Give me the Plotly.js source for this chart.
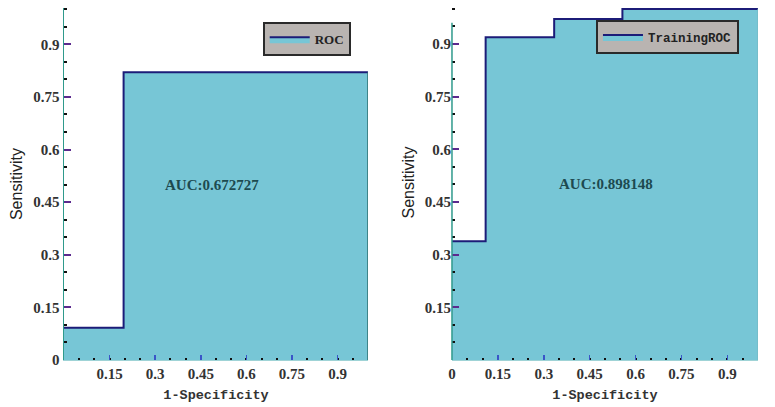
<!DOCTYPE html>
<html>
<head>
<meta charset="utf-8">
<script src="https://cdn.plot.ly/plotly-3.0.1.min.js"></script>
<style>
  html, body { margin: 0; padding: 0; background: #fff; }
  #chart { width: 775px; height: 407px; }
</style>
</head>
<body>
<div id="chart"></div>
<script>
// validation ROC (left)
const valFpr = [0, 0.196, 0.196, 1];
const valTpr = [0.092, 0.092, 0.82, 0.82];
const valAuc = 'AUC:0.672727';

// training ROC (right)
const trainFpr = [0, 0.11, 0.11, 0.334, 0.334, 0.557, 0.557, 1];
const trainTpr = [0.338, 0.338, 0.919, 0.919, 0.971, 0.971, 1.0, 1.0];
const trainAuc = 'AUC:0.898148';

const leftXTicks = [0.15, 0.3, 0.45, 0.6, 0.75, 0.9];
const leftYTicks = [0, 0.15, 0.3, 0.45, 0.6, 0.75, 0.9];
const rightXTicks = [0, 0.15, 0.3, 0.45, 0.6, 0.75, 0.9];
const rightYTicks = [0.15, 0.3, 0.45, 0.6, 0.75, 0.9];

const fillCol = '#77c6d6';
const lineCol = '#1c1c78';
const axisCol = '#2f9a8c';

const tickFont = { family: 'Liberation Serif, DejaVu Serif, serif', size: 15, color: '#333', weight: 'bold' };
const monoTitle = { family: 'Liberation Mono, DejaVu Sans Mono, monospace', size: 13.5, color: '#333', weight: 'bold' };

const leftX = [0.0826, 0.4748], rightX = [0.5832, 0.978];
const leftY = [0.1155, 0.980], rightY = [0.1155, 0.988];

function xAxis(domain, ticks, anchor) {
  return {
    domain: domain, range: [0, 1], fixedrange: true, anchor: anchor,
    showgrid: false, zeroline: false,
    showline: true, linecolor: '#9fd3d6', linewidth: 1,
    tickmode: 'array', tickvals: ticks, ticktext: ticks.map(String),
    ticks: 'inside', ticklen: 5, tickwidth: 1.5, tickcolor: '#3a55c8',
    minor: { ticks: 'inside', dtick: 0.05, ticklen: 2, tickwidth: 2, tickcolor: '#111' },
    tickfont: tickFont,
    title: { text: '1-Specificity', font: monoTitle, standoff: 8 }
  };
}

function yAxis(domain, range, ticks, anchor, line) {
  return {
    domain: domain, range: range, fixedrange: true, anchor: anchor,
    showgrid: false, zeroline: false,
    showline: line, linecolor: axisCol, linewidth: 1.5,
    tickmode: 'array', tickvals: ticks, ticktext: ticks.map(String),
    ticks: 'inside', ticklen: 7, tickwidth: 2, tickcolor: '#5b2a8e',
    minor: { ticks: 'inside', dtick: 0.05, ticklen: 3, tickwidth: 2, tickcolor: '#111' },
    tickfont: tickFont,
    title: { text: 'Sensitivity', font: { family: 'Liberation Sans, Arial, sans-serif', size: 16, color: '#222' }, standoff: 6 }
  };
}

const traces = [
  {
    x: valFpr, y: valTpr, xaxis: 'x', yaxis: 'y',
    type: 'scatter', mode: 'lines', name: 'ROC',
    line: { color: lineCol, width: 2 },
    fill: 'tozeroy', fillcolor: fillCol,
    legend: 'legend'
  },
  {
    x: trainFpr, y: trainTpr, xaxis: 'x2', yaxis: 'y2',
    type: 'scatter', mode: 'lines', name: 'TrainingROC',
    line: { color: lineCol, width: 2 },
    fill: 'tozeroy', fillcolor: fillCol,
    legend: 'legend2'
  }
];

const legendBox = {
  bgcolor: '#b9b4b1', bordercolor: '#2a2a2a', borderwidth: 2,
  xanchor: 'left', yanchor: 'top', itemclick: false, itemwidth: 40
};

const layout = {
  width: 775, height: 407,
  margin: { l: 0, r: 0, t: 0, b: 0 },
  paper_bgcolor: '#fff', plot_bgcolor: 'rgba(0,0,0,0)',
  showlegend: true,
  xaxis: xAxis(leftX, leftXTicks, 'y'),
  yaxis: yAxis(leftY, [0, 1.003], leftYTicks, 'x', true),
  xaxis2: xAxis(rightX, rightXTicks, 'y2'),
  yaxis2: yAxis(rightY, [0, 1.0114], rightYTicks, 'x2', false),
  legend: Object.assign({
    x: 0.339, y: 0.945, entrywidth: 52,
    font: { family: 'Liberation Serif, serif', size: 13, color: '#222', weight: 'bold' }
  }, legendBox),
  legend2: Object.assign({
    x: 0.769, y: 0.950, entrywidth: 102,
    font: { family: 'Liberation Mono, monospace', size: 12.5, color: '#222', weight: 'bold' }
  }, legendBox),
  shapes: [
    { type: 'line', xref: 'x', yref: 'y', x0: 1, x1: 1, y0: 0, y1: valTpr[valTpr.length - 1],
      line: { color: '#2b6f70', width: 1.5 } },
    { type: 'line', xref: 'x2', yref: 'y2', x0: 1, x1: 1, y0: 0, y1: trainTpr[trainTpr.length - 1],
      line: { color: '#6fb5c0', width: 1 } },
    // right y axis line stops short of the top, as in the source figure
    { type: 'line', xref: 'paper', yref: 'paper', x0: rightX[0], x1: rightX[0],
      y0: rightY[0], y1: rightY[0] + 0.95 * (rightY[1] - rightY[0]),
      line: { color: axisCol, width: 1.5 } }
  ],
  annotations: [
    { xref: 'x', yref: 'y', x: 0.487, y: 0.5, text: valAuc, showarrow: false,
      font: { family: 'Liberation Serif, serif', size: 15, color: '#1d4a50', weight: 'bold' } },
    { xref: 'x2', yref: 'y2', x: 0.503, y: 0.5, text: trainAuc, showarrow: false,
      font: { family: 'Liberation Serif, serif', size: 15, color: '#1d4a50', weight: 'bold' } }
  ]
};

Plotly.newPlot('chart', traces, layout, { displayModeBar: false, staticPlot: true });
</script>
</body>
</html>
